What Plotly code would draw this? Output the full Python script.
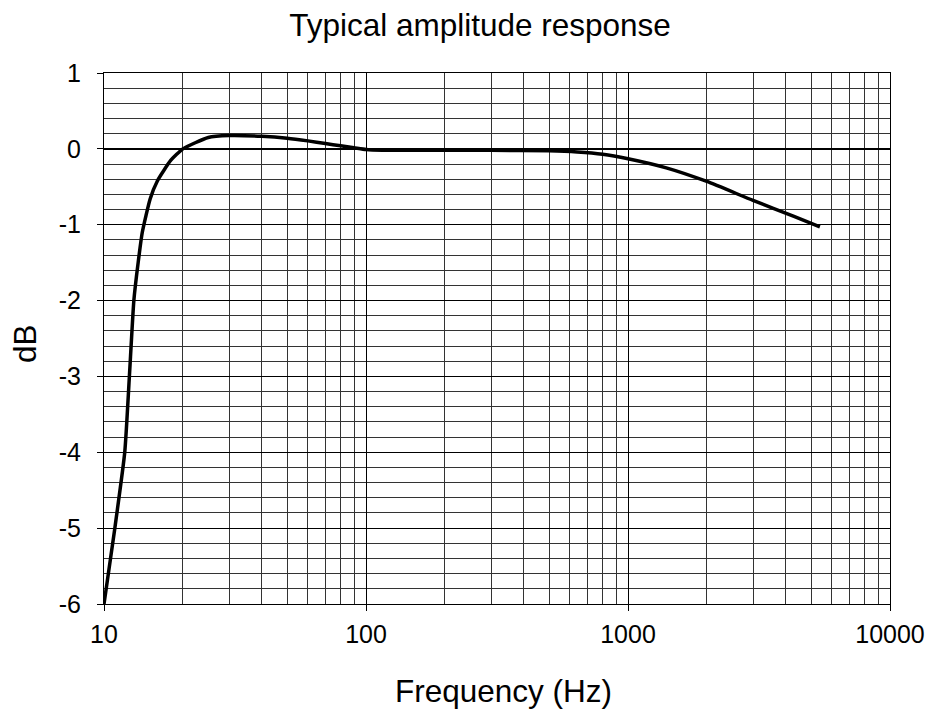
import plotly.graph_objects as go

freq_hz = [10, 11, 12, 12.5, 13, 13.5, 14, 15, 16, 18, 20, 25, 30, 40, 50, 60, 70, 80, 90,
           100, 115, 200, 300, 500, 640, 800, 1000, 1400, 2000, 3000, 4300, 5400]
amp_db = [-6.0, -5.0, -4.0, -3.0, -2.0, -1.5, -1.1, -0.66, -0.42, -0.15, 0.0, 0.15, 0.175,
          0.165, 0.14, 0.105, 0.07, 0.04, 0.015, -0.008, -0.018, -0.02, -0.02, -0.025, -0.04,
          -0.07, -0.13, -0.25, -0.43, -0.68, -0.89, -1.03]

title_text = "Typical amplitude response"
x_title = "Frequency (Hz)"
y_title = "dB"
x_ticks = [10, 100, 1000, 10000]
x_ticklabels = ["10", "100", "1000", "10000"]
y_ticks = [1, 0, -1, -2, -3, -4, -5, -6]
y_ticklabels = ["1", "0", "-1", "-2", "-3", "-4", "-5", "-6"]

FONT = "Liberation Sans, Arial, sans-serif"
W, H = 925, 715
ML, MR, MT, MB = 104, 35, 73, 111
PH = H - MT - MB

fig = go.Figure()
fig.add_trace(go.Scatter(
    x=freq_hz, y=amp_db, mode="lines",
    line=dict(color="black", width=3.5, shape="spline", smoothing=0.5),
    hoverinfo="skip", showlegend=False,
))

fig.update_layout(
    width=W, height=H,
    paper_bgcolor="white", plot_bgcolor="white",
    margin=dict(l=ML, r=MR, t=MT, b=MB, autoexpand=False),
    font=dict(family=FONT, color="black", size=25),
    title=dict(text=title_text, x=480 / W, xanchor="center", y=1 - 25 / H, yanchor="middle",
               font=dict(family=FONT, size=31.5, color="black")),
    xaxis=dict(
        type="log", range=[1, 4],
        tickvals=x_ticks, ticktext=x_ticklabels,
        ticks="outside", ticklen=6, tickwidth=1, tickcolor="black",
        showgrid=True, gridcolor="black", gridwidth=1,
        minor=dict(dtick="D1", showgrid=True, gridcolor="#333333", gridwidth=1, ticks=""),
        showline=True, linecolor="black", linewidth=1, mirror=True,
        tickfont=dict(family=FONT, size=25, color="black"),
        ticklabelstandoff=2,
        ticklabeloverflow="allow",
        zeroline=False,
    ),
    yaxis=dict(
        range=[-6, 1],
        tickvals=y_ticks, ticktext=y_ticklabels,
        ticks="outside", ticklen=6, tickwidth=1, tickcolor="black",
        showgrid=True, gridcolor="black", gridwidth=1,
        minor=dict(dtick=0.2, tick0=0, showgrid=True, gridcolor="#333333", gridwidth=1, ticks=""),
        showline=True, linecolor="black", linewidth=1, mirror=True,
        zeroline=True, zerolinecolor="black", zerolinewidth=1.5,
        tickfont=dict(family=FONT, size=25, color="black"),
        ticklabelstandoff=11,
    ),
    annotations=[
        dict(text=x_title, xref="paper", yref="paper", x=(503 - ML) / (W - ML - MR), y=0,
             xanchor="center", yanchor="middle", yshift=-(691 - (MT + PH)), showarrow=False,
             font=dict(family=FONT, size=31.5, color="black")),
        dict(text=y_title, xref="paper", yref="paper", x=0, y=((MT + PH) - 344) / PH,
             xanchor="center", yanchor="middle", xshift=-(ML - 25), textangle=-90, showarrow=False,
             font=dict(family=FONT, size=31.5, color="black")),
    ],
)

# remove the page's default 8px body margin so the 925x715 figure fills the window exactly
fig.write_html("out.html", config={"displayModeBar": False},
               post_script="document.body.style.margin='0';document.body.style.overflow='hidden';")
